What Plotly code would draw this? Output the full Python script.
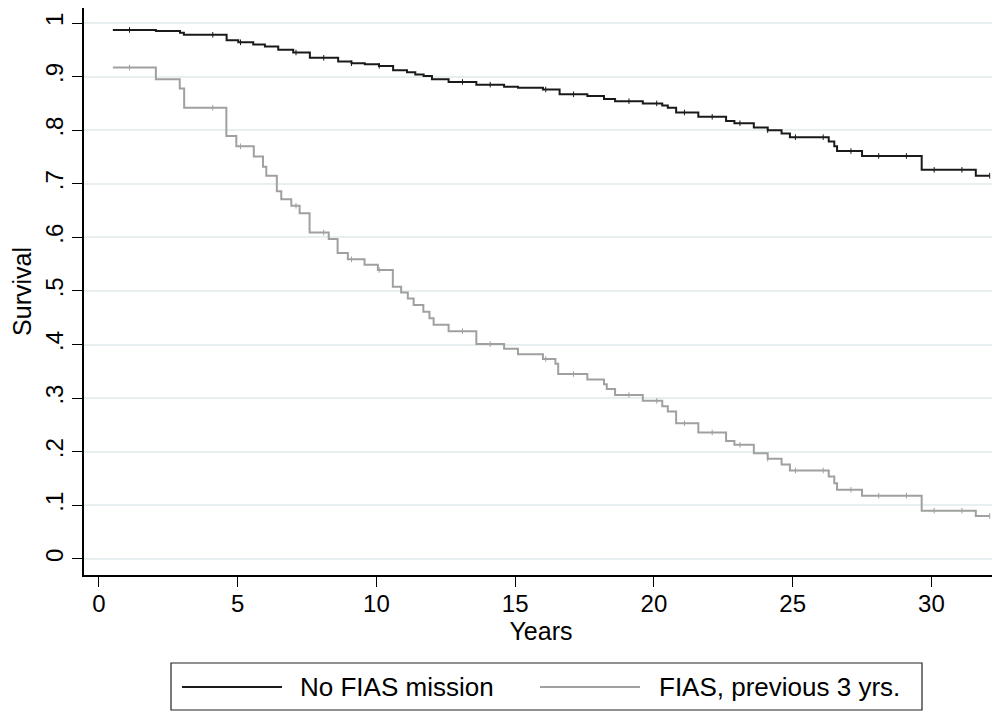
import plotly.graph_objects as go

# ---------------- data ----------------
black_times = [0.5, 2.05, 2.92, 3.06, 4.60, 5.02, 5.56, 5.98, 6.46, 7.0, 7.6, 8.62, 9.1, 9.58,
               10.09, 10.6, 11.1, 11.4, 11.7, 12.0, 12.6, 13.6, 14.6, 15.1, 16.0, 16.6, 17.6,
               18.2, 18.6, 19.6, 20.3, 20.5, 20.8, 21.6, 22.6, 22.9, 23.6, 24.1, 24.6, 24.9,
               26.3, 26.5, 26.6, 27.5, 29.65, 31.6]
black_surv = [0.987, 0.985, 0.982, 0.978, 0.968, 0.964, 0.960, 0.956, 0.950, 0.945, 0.935,
              0.928, 0.925, 0.923, 0.920, 0.912, 0.908, 0.904, 0.901, 0.895, 0.890, 0.885,
              0.881, 0.879, 0.876, 0.867, 0.864, 0.858, 0.854, 0.850, 0.846, 0.842, 0.833,
              0.825, 0.817, 0.813, 0.805, 0.800, 0.794, 0.787, 0.779, 0.770, 0.761, 0.752,
              0.726, 0.715]

gray_times = [0.5, 2.05, 2.91, 3.07, 4.59, 4.95, 5.58, 5.91, 6.03, 6.41, 6.57, 6.93, 7.23,
              7.59, 8.28, 8.6, 8.97, 9.57, 10.05, 10.59, 10.89, 11.13, 11.34, 11.69, 11.91,
              12.06, 12.6, 13.6, 14.6, 15.1, 16.0, 16.45, 16.55, 17.6, 18.2, 18.3, 18.6, 19.6,
              20.3, 20.5, 20.8, 21.6, 22.6, 22.9, 23.6, 24.1, 24.6, 24.9, 26.3, 26.5, 26.6,
              27.5, 29.65, 31.6]
gray_surv = [0.917, 0.895, 0.878, 0.842, 0.789, 0.770, 0.751, 0.732, 0.715, 0.686, 0.671,
             0.659, 0.645, 0.609, 0.597, 0.571, 0.559, 0.549, 0.539, 0.508, 0.497, 0.486,
             0.474, 0.461, 0.449, 0.437, 0.425, 0.401, 0.392, 0.382, 0.373, 0.364, 0.345,
             0.335, 0.326, 0.317, 0.306, 0.295, 0.285, 0.275, 0.253, 0.236, 0.220, 0.213,
             0.197, 0.187, 0.176, 0.165, 0.154, 0.141, 0.129, 0.118, 0.090, 0.080]

end_time = 32.1
censor_times = [1.1, 4.1, 5.1, 7.1, 8.1, 9.1, 10.1, 13.1, 14.1, 16.1, 17.1, 19.1, 20.1, 21.1,
                22.1, 23.1, 24.1, 25.1, 26.1, 27.1, 28.1, 29.1, 30.1, 31.1, 32.1]

series_names = ["No FIAS mission", "FIAS, previous 3 yrs."]
x_ticks = [0, 5, 10, 15, 20, 25, 30]
y_ticks = [0, 0.1, 0.2, 0.3, 0.4, 0.5, 0.6, 0.7, 0.8, 0.9, 1.0]
y_ticktext = ["0", ".1", ".2", ".3", ".4", ".5", ".6", ".7", ".8", ".9", "1"]

# ---------------- styling ----------------
FONT = "Arial, Liberation Sans, Helvetica, sans-serif"
BLACK = "#1a1a1a"
GRAY = "#a0a0a0"
GRID = "#e8eff1"

OFF = 8                      # page body margin offset (screen px)
W, H = 1000 - OFF, 712 - OFF
ML, MR, MT, MB = 84 - OFF, 2, 8 - OFF, 712 - 575
PW, PH = W - ML - MR, H - MT - MB


def px_x(px):
    """screen px -> paper x"""
    return (px - OFF - ML) / PW


def px_y(py):
    """screen px -> paper y"""
    return (H - MB - (py - OFF)) / PH


def surv_at(times, surv, t):
    val = surv[0]
    for tt, ss in zip(times, surv):
        if tt <= t:
            val = ss
    return val


fig = go.Figure()
for times, surv, color, name in [(black_times, black_surv, BLACK, series_names[0]),
                                 (gray_times, gray_surv, GRAY, series_names[1])]:
    xs = list(times) + [end_time]
    ys = list(surv) + [surv[-1]]
    fig.add_trace(go.Scatter(x=xs, y=ys, mode="lines", line=dict(color=color, width=2, shape="hv"),
                             name=name, showlegend=False))
    cx = [t for t in censor_times if t <= end_time]
    cy = [surv_at(times, surv, t) for t in cx]
    fig.add_trace(go.Scatter(x=cx, y=cy, mode="markers",
                             marker=dict(symbol="line-ns", size=4, line=dict(color=color, width=1)),
                             showlegend=False, hoverinfo="skip"))

fig.update_layout(
    width=W, height=H,
    margin=dict(l=ML, r=MR, t=MT, b=MB, autoexpand=False),
    paper_bgcolor="white", plot_bgcolor="white",
    font=dict(family=FONT, color="black", size=24),
    showlegend=False,
)
fig.update_xaxes(
    range=[-0.54, 32.4], tickvals=x_ticks, ticks="outside", ticklen=10, tickwidth=1.3,
    tickcolor="black", showline=True, linecolor="black", linewidth=1.5, showgrid=False,
    zeroline=False, tickfont=dict(size=24), ticklabelstandoff=-4,
    title=dict(text="Years", font=dict(size=25), standoff=4),
)
fig.update_yaxes(
    range=[-0.03, 1.028], tickvals=y_ticks, ticktext=y_ticktext, tickangle=-90,
    ticks="outside", ticklen=10, tickwidth=1.3, tickcolor="black", showline=True,
    linecolor="black", linewidth=1.5, showgrid=True, gridcolor=GRID, gridwidth=1.5,
    zeroline=False, tickfont=dict(size=24),
    title=dict(text="Survival", font=dict(size=25), standoff=6),
)

# custom legend box (Stata style)
shapes = [dict(type="rect", xref="paper", yref="paper", x0=px_x(171), x1=px_x(922),
               y0=px_y(710), y1=px_y(663), line=dict(color="#222", width=1.2), fillcolor="white")]
legend_items = [(182, 282, 298, BLACK, series_names[0]), (540, 640, 657, GRAY, series_names[1])]
annotations = []
for lx0, lx1, tx, color, name in legend_items:
    shapes.append(dict(type="line", xref="paper", yref="paper", x0=px_x(lx0), x1=px_x(lx1),
                       y0=px_y(687), y1=px_y(687), line=dict(color=color, width=2)))
    annotations.append(dict(text=name, xref="paper", yref="paper", x=px_x(tx), y=px_y(687),
                            xanchor="left", yanchor="middle", showarrow=False,
                            font=dict(size=26, family=FONT, color="black")))
fig.update_layout(shapes=shapes, annotations=annotations)

fig.write_html("out.html")
